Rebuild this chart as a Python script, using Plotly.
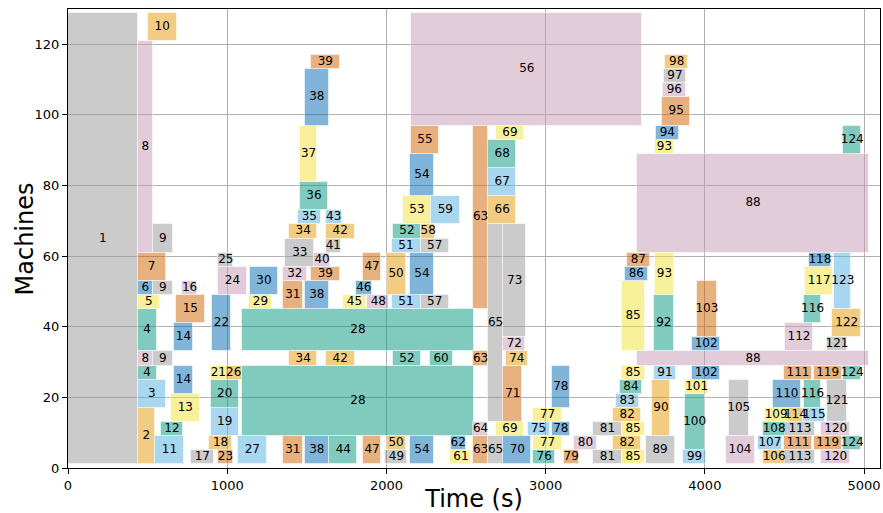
import plotly.graph_objects as go

# ---- data: one row per rectangle (job label, start time, end time, lower machine, upper machine)
job_ids = [1, 2, 3, 4, 4, 5, 6, 7, 8, 8, 9, 9, 9, 10, 11, 12, 13, 14, 14, 15, 16, 17, 18, 19, 20,
           21, 22, 23, 24, 25, 26, 27, 28, 28, 29, 30, 31, 31, 32, 33, 34, 34, 35, 36, 37,
           38, 38, 38, 39, 39, 40, 41, 42, 42, 43, 44, 45, 46, 47, 47, 48, 49, 50, 50,
           51, 51, 52, 52, 53, 54, 54, 54, 55, 56, 57, 57, 58, 59, 60, 61, 62,
           63, 63, 63, 64, 65, 65, 66, 67, 68, 69, 69, 70, 71, 72, 73, 74, 75, 76,
           77, 77, 78, 78, 79, 80, 81, 81, 82, 82, 83, 84, 85, 85, 85, 85, 86, 87,
           88, 88, 89, 90, 91, 92, 93, 93, 94, 95, 96, 97, 98, 99, 100, 101, 102, 102,
           103, 104, 105, 106, 107, 108, 109, 110, 111, 111, 112, 113, 113, 114, 115,
           116, 116, 117, 118, 119, 119, 120, 120, 121, 121, 122, 123, 124, 124, 124]
starts = [0, 437, 437, 437, 437, 437, 437, 437, 437, 437, 533, 533, 533, 500, 546, 582, 647, 665, 665, 678, 716, 772, 885, 896, 896,
          896, 904, 940, 944, 944, 992, 1069, 1094, 1094, 1138, 1142, 1352, 1352, 1352, 1366, 1387, 1387, 1446, 1456, 1457,
          1488, 1488, 1488, 1525, 1525, 1546, 1619, 1619, 1619, 1619, 1640, 1728, 1806, 1854, 1854, 1881, 1994, 2002, 2002,
          2032, 2032, 2042, 2042, 2105, 2149, 2149, 2149, 2153, 2157, 2214, 2214, 2216, 2279, 2272, 2402, 2404,
          2544, 2544, 2544, 2544, 2638, 2638, 2638, 2638, 2638, 2687, 2687, 2733, 2733, 2733, 2733, 2749, 2886, 2921,
          2921, 2921, 3040, 3040, 3113, 3178, 3297, 3297, 3423, 3423, 3440, 3465, 3477, 3477, 3477, 3477, 3496, 3511,
          3575, 3575, 3628, 3670, 3678, 3680, 3685, 3685, 3691, 3731, 3737, 3741, 3752, 3862, 3873, 3877, 3919, 3919,
          3950, 4130, 4151, 4364, 4333, 4364, 4375, 4427, 4496, 4496, 4501, 4504, 4504, 4521, 4616,
          4622, 4622, 4632, 4651, 4683, 4683, 4731, 4731, 4766, 4766, 4800, 4814, 4870, 4870, 4870]
ends = [437, 546, 615, 557, 557, 577, 533, 613, 533, 533, 657, 657, 657, 684, 728, 724, 827, 785, 785, 858, 812, 916, 1031, 1073, 1073,
        992, 1023, 1038, 1122, 1038, 1090, 1247, 2548, 2548, 1279, 1320, 1473, 1473, 1498, 1546, 1567, 1567, 1586, 1634, 1565,
        1638, 1638, 1638, 1707, 1707, 1645, 1714, 1801, 1801, 1718, 1818, 1871, 1910, 1965, 1965, 2017, 2132, 2120, 2120,
        2214, 2214, 2216, 2216, 2279, 2297, 2297, 2297, 2331, 3607, 2392, 2392, 2308, 2461, 2415, 2534, 2498,
        2638, 2638, 2638, 2638, 2733, 2733, 2816, 2816, 2816, 2865, 2865, 2911, 2854, 2873, 2879, 2889, 3026, 3061,
        3103, 3103, 3151, 3151, 3208, 3322, 3479, 3479, 3601, 3601, 3584, 3607, 3622, 3622, 3622, 3622, 3643, 3653,
        5030, 5030, 3810, 3779, 3821, 3804, 3808, 3808, 3837, 3909, 3879, 3884, 3894, 4009, 3998, 4019, 4097, 4097,
        4076, 4312, 4275, 4507, 4484, 4507, 4521, 4605, 4674, 4674, 4681, 4689, 4689, 4616, 4756,
        4731, 4731, 4804, 4794, 4860, 4860, 4913, 4913, 4894, 4894, 4982, 4919, 4982, 4982, 4982]
m_low = [1, 1, 17, 33, 25, 45, 49, 53, 61, 29, 61, 49, 29, 121, 1, 9, 13, 33, 21, 41, 49, 1, 5, 9, 17,
         25, 33, 1, 49, 57, 25, 1, 33, 9, 45, 49, 45, 1, 53, 57, 65, 29, 69, 73, 81,
         97, 45, 1, 113, 53, 57, 61, 65, 29, 69, 1, 45, 49, 53, 1, 45, 1, 49, 5,
         61, 45, 65, 29, 69, 77, 49, 1, 89, 97, 61, 45, 65, 69, 29, 1, 5,
         45, 29, 1, 9, 13, 1, 69, 77, 85, 93, 9, 1, 13, 33, 37, 29, 9, 1,
         13, 5, 17, 9, 1, 5, 9, 1, 13, 5, 17, 21, 33, 25, 9, 1, 53, 57,
         61, 29, 1, 9, 25, 33, 89, 49, 93, 97, 105, 109, 113, 1, 5, 21, 33, 25,
         37, 1, 9, 1, 5, 9, 13, 17, 25, 5, 33, 9, 1, 13, 13,
         41, 17, 49, 57, 25, 5, 9, 1, 33, 13, 37, 45, 89, 25, 5]
m_high = [129, 17, 25, 45, 29, 49, 53, 61, 121, 33, 69, 53, 33, 129, 9, 13, 21, 41, 29, 49, 53, 5, 9, 17, 25,
          29, 49, 5, 57, 61, 29, 9, 45, 29, 49, 57, 53, 9, 57, 65, 69, 33, 73, 81, 97,
          113, 53, 9, 117, 57, 61, 65, 69, 33, 73, 9, 49, 53, 61, 9, 49, 5, 61, 9,
          65, 49, 69, 33, 77, 89, 61, 9, 97, 129, 65, 49, 69, 77, 33, 5, 9,
          97, 33, 9, 13, 69, 9, 77, 85, 93, 97, 13, 9, 29, 37, 69, 33, 13, 5,
          17, 9, 29, 13, 5, 9, 13, 5, 17, 9, 21, 25, 53, 29, 13, 5, 57, 61,
          89, 33, 9, 25, 29, 49, 93, 61, 97, 105, 109, 113, 117, 5, 21, 25, 37, 29,
          53, 9, 25, 5, 9, 13, 17, 25, 29, 9, 41, 13, 5, 17, 17,
          49, 25, 57, 61, 29, 9, 13, 5, 37, 25, 45, 61, 97, 29, 9]

x_ticks = [0, 1000, 2000, 3000, 4000, 5000]
y_ticks = [0, 20, 40, 60, 80, 100, 120]

# ---- style
palette = ['rgba(151,151,151,0.5)', 'rgba(229,153,5,0.5)', 'rgba(85,175,225,0.5)', 'rgba(1,151,123,0.5)',
           'rgba(241,225,55,0.5)', 'rgba(1,107,179,0.5)', 'rgba(207,97,0,0.5)', 'rgba(199,153,179,0.5)']

colors = [palette[(j - 1) % 8] for j in job_ids]
centers_y = [(a + b) / 2 for a, b in zip(m_low, m_high)]
heights = [b - a for a, b in zip(m_low, m_high)]
durations = [e - s for s, e in zip(starts, ends)]
centers_x = [(s + e) / 2 for s, e in zip(starts, ends)]

fig = go.Figure()
fig.add_trace(go.Bar(
    orientation='h', y=centers_y, x=durations, base=starts, width=heights,
    marker=dict(color=colors, line=dict(color='rgba(255,255,255,0.5)', width=1)),
    hoverinfo='skip', showlegend=False))
fig.add_trace(go.Scatter(
    x=centers_x, y=centers_y, mode='text', text=[str(j) for j in job_ids],
    textfont=dict(family='DejaVu Sans', size=12, color='black'),
    hoverinfo='skip', showlegend=False, cliponaxis=False))

axis_common = dict(showgrid=True, gridcolor='#b0b0b0', gridwidth=1, zeroline=False,
                   showline=True, mirror=True, linecolor='black', linewidth=1,
                   ticks='outside', ticklen=5, tickcolor='black', automargin=False,
                   tickfont=dict(family='DejaVu Sans', size=13, color='black'))
fig.update_xaxes(range=[0, 5100], tickvals=x_ticks,
                 title=dict(text='Time (s)', font=dict(family='DejaVu Sans', size=24, color='black'), standoff=4),
                 **axis_common)
fig.update_yaxes(range=[0, 130], tickvals=y_ticks, title=None, **axis_common)
fig.add_annotation(text='Machines', xref='paper', yref='paper', x=-0.053, y=0.5,
                   xanchor='center', yanchor='middle', textangle=-90, showarrow=False,
                   font=dict(family='DejaVu Sans', size=24, color='black'))
fig.update_layout(width=883, height=513, margin=dict(l=68, r=3, t=9, b=45),
                  barmode='overlay', bargap=0, plot_bgcolor='white', paper_bgcolor='white',
                  font=dict(family='DejaVu Sans'))
fig.write_html('out.html', config={'displayModeBar': False},
               post_script="document.body.style.margin='0';document.body.style.overflow='hidden';")
